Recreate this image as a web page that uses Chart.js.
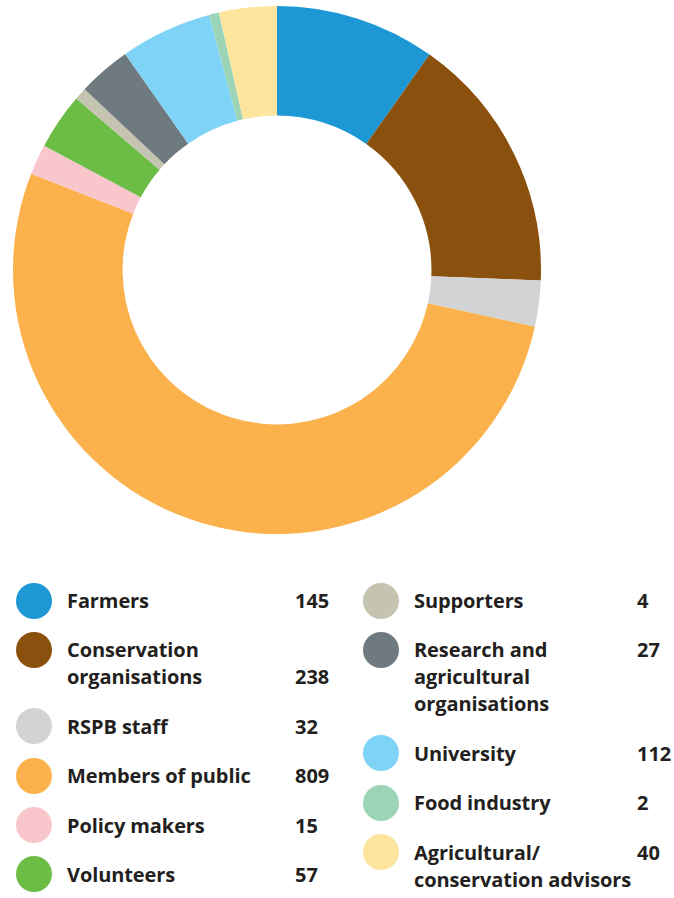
<!DOCTYPE html>
<html>
<head>
<meta charset="utf-8">
<script src="https://cdn.jsdelivr.net/npm/chart.js@4.4.1/dist/chart.umd.min.js"></script>
<style>
  html, body { margin: 0; padding: 0; background: #ffffff; }
  body { width: 674px; height: 898px; position: relative; overflow: hidden; font-family: "Open Sans", "Lato", sans-serif; }
  #chartBox { position: absolute; left: 13px; top: 6px; width: 528px; height: 528px; }
  .col { position: absolute; top: 587px; }
  .item { display: flex; align-items: flex-start; margin-bottom: 22.4px; }
  .dot { width: 36px; height: 36px; border-radius: 50%; margin: -4.5px 15px -4.5px 0; flex: none; }
  .lab { font-weight: 700; font-size: 20px; line-height: 27px; color: #231f20; flex: none; letter-spacing: -0.1px; }
  .num { font-weight: 700; font-size: 20px; line-height: 27px; color: #231f20; }
  #colL .lab { width: 228px; }
  #colR .lab { width: 223px; }
  #colL .num { align-self: flex-end; }
  #colR .num { align-self: flex-start; }
</style>
</head>
<body>
<div id="chartBox"><canvas id="c"></canvas></div>
<div class="col" id="colL" style="left:16px;"></div>
<div class="col" id="colR" style="left:363px;"></div>
<script>
const categories = [
  "Farmers",
  "Conservation\norganisations",
  "RSPB staff",
  "Members of public",
  "Policy makers",
  "Volunteers",
  "Supporters",
  "Research and\nagricultural\norganisations",
  "University",
  "Food industry",
  "Agricultural/\nconservation advisors"
];
// counts printed in the legend
const counts = [145, 238, 32, 809, 15, 57, 4, 27, 112, 2, 40];
// slice sizes as drawn in the reference (degrees of the ring)
const sliceDegrees = [35.3, 57.0, 10.1, 189.0, 6.7, 12.4, 2.7, 11.7, 20.2, 2.2, 12.7];
const colors = ["#1d98d5", "#8a500e", "#d1d3d4", "#fbb14c", "#f8c6cb", "#6cbd45",
                "#c4c4b0", "#6f7a80", "#7fd3f6", "#9cd4b8", "#fee59d"];
const leftCount = 6;

new Chart(document.getElementById("c"), {
  type: "doughnut",
  data: {
    labels: categories.map(s => s.replace(/\n/g, " ")),
    datasets: [{ data: sliceDegrees, backgroundColor: colors, borderWidth: 0, hoverOffset: 0 }]
  },
  options: {
    responsive: true,
    maintainAspectRatio: false,
    animation: false,
    cutout: "58.5%",
    layout: { padding: 0 },
    plugins: { legend: { display: false }, tooltip: { enabled: false } }
  }
});

categories.forEach((name, i) => {
  const col = document.getElementById(i < leftCount ? "colL" : "colR");
  const item = document.createElement("div");
  item.className = "item";
  const dot = document.createElement("div");
  dot.className = "dot";
  dot.style.background = colors[i];
  const lab = document.createElement("div");
  lab.className = "lab";
  lab.innerHTML = name.split("\n").join("<br>");
  const num = document.createElement("div");
  num.className = "num";
  num.textContent = counts[i];
  item.appendChild(dot); item.appendChild(lab); item.appendChild(num);
  col.appendChild(item);
});
</script>
</body>
</html>
